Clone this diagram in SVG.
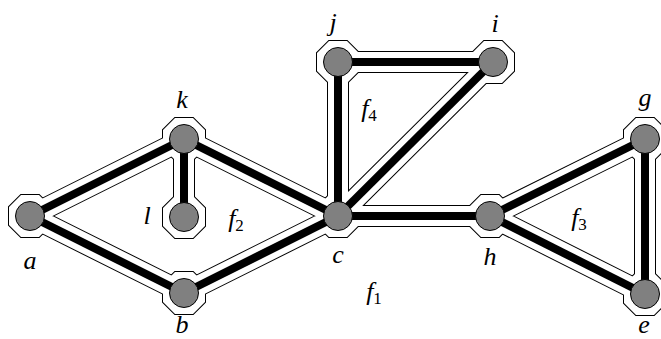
<svg xmlns="http://www.w3.org/2000/svg" xmlns:xlink="http://www.w3.org/1999/xlink" width="661" height="339" viewBox="0 0 661 339">
<style>
  .hl { stroke: #000; stroke-width: 22; fill: none; }
  .hw { stroke: #fff; stroke-width: 20; fill: none; }
  .ho { fill: #fff; stroke: #000; stroke-width: 2; }
  .hf { fill: #fff; stroke: none; }
  .edge { stroke: #000; stroke-width: 8; fill: none; }
  .node { fill: #808080; stroke: #000; stroke-width: 1; }
  .lbl { font-family: "Liberation Serif", "DejaVu Serif", serif; font-style: italic; font-size: 26px; fill: #000; text-anchor: middle; }
  .sub { font-style: normal; font-size: 17px; }
</style>
<defs>
  <polygon id="oct" points="-9,-21 9,-21 21,-9 21,9 9,21 -9,21 -21,9 -21,-9"/>
  <path id="edges" d="M30,216 L184,139 M30,216 L184,293 M184,139 L184,217 M184,139 L338,216 M184,293 L338,216 M338,216 L338,62 M338,216 L493,62 M338,62 L493,62 M338,216 L490,216 M490,216 L645,139 M490,216 L645,294 M645,139 L645,294"/>
</defs>
<rect width="661" height="339" fill="#fff"/>
<g id="halo">
  <g class="ho">
    <use xlink:href="#oct" x="30" y="216"/><use xlink:href="#oct" x="184" y="139"/><use xlink:href="#oct" x="184" y="217"/><use xlink:href="#oct" x="184" y="293"/><use xlink:href="#oct" x="338" y="216"/><use xlink:href="#oct" x="338" y="62"/><use xlink:href="#oct" x="493" y="62"/><use xlink:href="#oct" x="490" y="216"/><use xlink:href="#oct" x="645" y="139"/><use xlink:href="#oct" x="645" y="294"/>
  </g>
  <use xlink:href="#edges" class="hl"/>
  <g class="hf">
    <use xlink:href="#oct" x="30" y="216"/><use xlink:href="#oct" x="184" y="139"/><use xlink:href="#oct" x="184" y="217"/><use xlink:href="#oct" x="184" y="293"/><use xlink:href="#oct" x="338" y="216"/><use xlink:href="#oct" x="338" y="62"/><use xlink:href="#oct" x="493" y="62"/><use xlink:href="#oct" x="490" y="216"/><use xlink:href="#oct" x="645" y="139"/><use xlink:href="#oct" x="645" y="294"/>
  </g>
  <use xlink:href="#edges" class="hw"/>
</g>
<g id="connectors" class="edge">
  <line x1="30" y1="216" x2="184" y2="139"/>
  <line x1="30" y1="216" x2="184" y2="293"/>
  <line x1="184" y1="139" x2="184" y2="217"/>
  <line x1="184" y1="139" x2="338" y2="216"/>
  <line x1="184" y1="293" x2="338" y2="216"/>
  <line x1="338" y1="216" x2="338" y2="62"/>
  <line x1="338" y1="216" x2="493" y2="62"/>
  <line x1="338" y1="62" x2="493" y2="62"/>
  <line x1="338" y1="216" x2="490" y2="216"/>
  <line x1="490" y1="216" x2="645" y2="139"/>
  <line x1="490" y1="216" x2="645" y2="294"/>
  <line x1="645" y1="139" x2="645" y2="294"/>
</g>
<g id="node-a"><circle class="node" cx="30" cy="216" r="14.5"/><text class="lbl" x="30" y="269">a</text></g>
<g id="node-k"><circle class="node" cx="184" cy="139" r="14.5"/><text class="lbl" x="182" y="108">k</text></g>
<g id="node-l"><circle class="node" cx="184" cy="217" r="14.5"/><text class="lbl" x="147" y="224">l</text></g>
<g id="node-b"><circle class="node" cx="184" cy="293" r="14.5"/><text class="lbl" x="182" y="333">b</text></g>
<g id="node-c"><circle class="node" cx="338" cy="216" r="14.5"/><text class="lbl" x="338" y="263">c</text></g>
<g id="node-j"><circle class="node" cx="338" cy="62" r="14.5"/><text class="lbl" x="333" y="31">j</text></g>
<g id="node-i"><circle class="node" cx="493" cy="62" r="14.5"/><text class="lbl" x="495" y="32">i</text></g>
<g id="node-h"><circle class="node" cx="490" cy="216" r="14.5"/><text class="lbl" x="490" y="265">h</text></g>
<g id="node-g"><circle class="node" cx="645" cy="139" r="14.5"/><text class="lbl" x="645" y="106">g</text></g>
<g id="node-e"><circle class="node" cx="645" cy="294" r="14.5"/><text class="lbl" x="644" y="333">e</text></g>
<g id="faces">
  <text class="lbl" x="236" y="227">f<tspan class="sub" dy="4">2</tspan></text>
  <text class="lbl" x="369" y="117">f<tspan class="sub" dy="4">4</tspan></text>
  <text class="lbl" x="579" y="226">f<tspan class="sub" dy="4">3</tspan></text>
  <text class="lbl" x="374" y="300">f<tspan class="sub" dy="4">1</tspan></text>
</g>
</svg>
